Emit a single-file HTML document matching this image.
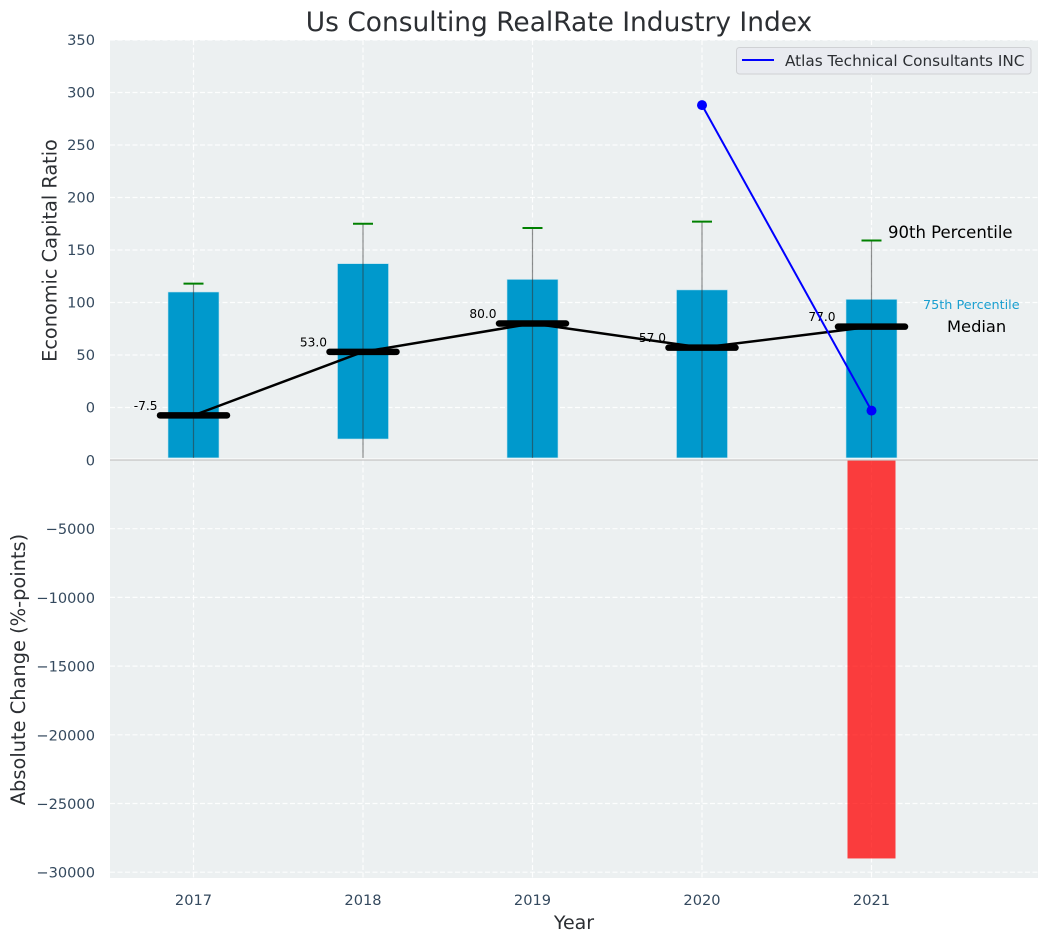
<!DOCTYPE html>
<html lang="en">
<head>
<meta charset="utf-8">
<title>Us Consulting RealRate Industry Index</title>
<style>
html,body{margin:0;padding:0;background:#fff;}
svg{display:block;font-family:"DejaVu Sans","Liberation Sans",sans-serif;}
</style>
</head>
<body>
<svg id="chart" xmlns="http://www.w3.org/2000/svg" width="1048" height="942" viewBox="0 0 1048 942"></svg>
<script>
const years = [2017, 2018, 2019, 2020, 2021];
const p75 = [110, 137, 122, 112, 103];
const p25 = [-48, -30, -48, -48, -48];
const p90 = [118, 175, 171, 177, 159];
const medians = [-7.5, 53, 80, 57, 77];
const companyYears = [2020, 2021];
const companyValues = [288, -3];
const changeYears = [2021];
const changeValues = [-29000];
const upperTicks = [50, 100, 150, 200, 250, 300, 350, 0];
const lowerTicks = [0, -5000, -10000, -15000, -20000, -25000, -30000];

const svg = document.getElementById('chart');
const NS = 'http://www.w3.org/2000/svg';
const left = 110, right = 1038, top_ = 40, split = 460, bottom = 878;
function x(v) { return 193.5 + (v - 2017) * 169.5; }
function yUp(v) { return 407.5 - v * 1.05; }
function yLow(v) { return 460 - v * 0.01374; }
function make(tag, attrs, text) {
  const el = document.createElementNS(NS, tag);
  for (const k in attrs) el.setAttribute(k, attrs[k]);
  if (text !== undefined) el.textContent = text;
  svg.appendChild(el);
  return el;
}
let el;

el = make('rect', {x: left, y: top_, width: right - left, height: bottom - top_, fill: '#ecf0f1'});



const gridStyle = {stroke: '#ffffff', 'stroke-width': 1.2, 'stroke-dasharray': '5 2.5', 'stroke-opacity': 0.9};
upperTicks.forEach(function (t) {
  const g = make('line', Object.assign({x1: left, x2: right, y1: yUp(t), y2: yUp(t)}, gridStyle));
  
  
});
lowerTicks.slice(1).forEach(function (t) {
  const g = make('line', Object.assign({x1: left, x2: right, y1: yLow(t), y2: yLow(t)}, gridStyle));
  
  
});
years.forEach(function (yr) {
  const g = make('line', Object.assign({x1: x(yr), x2: x(yr), y1: top_, y2: bottom}, gridStyle));
  
  
});

years.forEach(function (yr, i) {
  const b = make('rect', {x: x(yr) - 25.5, y: yUp(p75[i]), width: 51, height: yUp(p25[i]) - yUp(p75[i]), fill: '#0099cc', stroke: '#bfe3ef', 'stroke-width': 0.6});
  
  
});

years.forEach(function (yr, i) {
  const w = make('line', {x1: x(yr), x2: x(yr), y1: yUp(p90[i]), y2: yUp(-48), stroke: '#333333', 'stroke-opacity': 0.55, 'stroke-width': 1.2});
  
  
  const c = make('line', {x1: x(yr) - 10, x2: x(yr) + 10, y1: yUp(p90[i]), y2: yUp(p90[i]), stroke: '#008000', 'stroke-width': 2});
  
  
});

changeYears.forEach(function (yr, i) {
  const r = make('rect', {x: x(yr) - 24, y: yLow(0), width: 48, height: yLow(changeValues[i]) - yLow(0), fill: '#ff0000', 'fill-opacity': 0.75});
  
  
});

el = make('line', {x1: left, x2: right, y1: 459, y2: 459, stroke: '#ffffff', 'stroke-width': 1});


el = make('line', {x1: left, x2: right, y1: 460, y2: 460, stroke: '#c4c4c4', 'stroke-width': 1.2});



el = make('polyline', {points: years.map(function (yr, i) { return x(yr) + ',' + yUp(medians[i]); }).join(' '), fill: 'none', stroke: '#000000', 'stroke-width': 2.5});


years.forEach(function (yr, i) {
  const m = make('line', {x1: x(yr) - 33.5, x2: x(yr) + 33.5, y1: yUp(medians[i]), y2: yUp(medians[i]), stroke: '#000000', 'stroke-width': 6.5, 'stroke-linecap': 'round'});
  
  
  const t = make('text', {x: x(yr) - 36, y: yUp(medians[i]) - 5.5, 'text-anchor': 'end', 'font-size': 12.2, fill: '#000000'}, medians[i].toFixed(1));
  
  
});

el = make('polyline', {points: companyYears.map(function (yr, i) { return x(yr) + ',' + yUp(companyValues[i]); }).join(' '), fill: 'none', stroke: '#0000ff', 'stroke-width': 2});


companyYears.forEach(function (yr, i) {
  const p = make('circle', {cx: x(yr), cy: yUp(companyValues[i]), r: 5, fill: '#0000ff'});
  
  
});

const tickColor = '#34495e';
upperTicks.forEach(function (t) {
  const l = make('text', {x: 95, y: yUp(t) + 5, 'text-anchor': 'end', 'font-size': 14.6, fill: tickColor}, String(t));
  
  
});
lowerTicks.forEach(function (t) {
  const l = make('text', {x: 95, y: yLow(t) + 5.5, 'text-anchor': 'end', 'font-size': 14.6, fill: tickColor}, String(t).replace('-', '\u2212'));
  
  
});
years.forEach(function (yr) {
  const l = make('text', {x: x(yr), y: 905, 'text-anchor': 'middle', 'font-size': 14.6, fill: tickColor}, String(yr));
  
  
});

el = make('text', {x: 559, y: 31, 'text-anchor': 'middle', 'font-size': 26.45, fill: '#2c2f33'}, 'Us Consulting RealRate Industry Index');


el = make('text', {x: 574, y: 929, 'text-anchor': 'middle', 'font-size': 19, fill: '#2c2f33'}, 'Year');


el = make('text', {transform: 'translate(56.5,250.5) rotate(-90)', 'text-anchor': 'middle', 'font-size': 19.3, fill: '#2c2f33'}, 'Economic Capital Ratio');


el = make('text', {transform: 'translate(25,669.5) rotate(-90)', 'text-anchor': 'middle', 'font-size': 19.4, fill: '#2c2f33'}, 'Absolute Change (%-points)');



el = make('text', {x: 888, y: 238, 'font-size': 16.5, fill: '#000000'}, '90th Percentile');


el = make('text', {x: 923, y: 309, 'font-size': 12.8, fill: '#1a9fd0'}, '75th Percentile');


el = make('text', {x: 947, y: 332, 'font-size': 16.3, fill: '#000000'}, 'Median');



el = make('rect', {x: 736.5, y: 47.5, width: 294.5, height: 26.5, rx: 3, fill: '#e9ebf0', stroke: '#cfd1d4', 'stroke-width': 1});


el = make('line', {x1: 742, x2: 774, y1: 60, y2: 60, stroke: '#0000ff', 'stroke-width': 2});


el = make('text', {x: 785, y: 66, 'font-size': 15.27, fill: '#2c2f33'}, 'Atlas Technical Consultants INC');


</script>
</body>
</html>
